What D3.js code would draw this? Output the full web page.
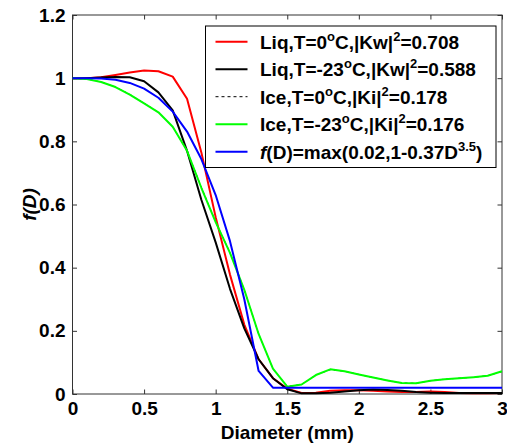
<!DOCTYPE html>
<html>
<head>
<meta charset="utf-8">
<script src="https://cdn.jsdelivr.net/npm/d3@7/dist/d3.min.js"></script>
<style>
  html, body { margin: 0; padding: 0; background: #fff; }
  svg { display: block; }
  text { font-family: "Liberation Sans", Arial, Helvetica, sans-serif; font-weight: bold; fill: #000; }
</style>
</head>
<body>
<svg id="chart" width="507" height="443"></svg>
<script>
// Diameter grid (mm)
const diameter = [0, 0.1, 0.2, 0.3, 0.4, 0.5, 0.6, 0.7, 0.8, 0.9, 1.0,
                  1.1, 1.2, 1.3, 1.4, 1.5, 1.6, 1.7, 1.8, 1.9, 2.0,
                  2.1, 2.2, 2.3, 2.4, 2.5, 2.6, 2.7, 2.8, 2.9, 3.0];

// Liquid, T = 0 °C
const liq0 = [1.000, 1.000, 1.003, 1.010, 1.018, 1.024, 1.022, 1.005, 0.935, 0.765, 0.560,
              0.378, 0.220, 0.110, 0.050, 0.017, 0.003, 0.004, 0.010, 0.012, 0.012,
              0.010, 0.008, 0.006, 0.006, 0.008, 0.006, 0.003, 0.002, 0.002, 0.003];
// Liquid, T = -23 °C
const liq23 = [1.000, 1.000, 1.002, 1.004, 1.003, 0.990, 0.955, 0.898, 0.770, 0.615, 0.480,
               0.333, 0.208, 0.110, 0.050, 0.015, 0.002, 0.002, 0.004, 0.008, 0.012,
               0.014, 0.013, 0.010, 0.006, 0.004, 0.003, 0.003, 0.003, 0.003, 0.003];
// Ice, T = 0 °C
const ice0 = [1.000, 0.997, 0.988, 0.972, 0.949, 0.921, 0.892, 0.846, 0.770, 0.655, 0.545,
              0.448, 0.330, 0.190, 0.080, 0.024, 0.030, 0.060, 0.077, 0.072, 0.062,
              0.052, 0.043, 0.035, 0.034, 0.042, 0.047, 0.050, 0.053, 0.058, 0.071];
// Ice, T = -23 °C
const ice23 = [1.000, 0.997, 0.988, 0.972, 0.948, 0.920, 0.892, 0.846, 0.770, 0.653, 0.544,
               0.447, 0.330, 0.190, 0.080, 0.023, 0.030, 0.060, 0.078, 0.072, 0.062,
               0.052, 0.043, 0.035, 0.034, 0.042, 0.047, 0.050, 0.053, 0.058, 0.072];
// f(D) = max(0.02, 1 - 0.37 D^3.5)
const fitD = [1.000, 1.000, 0.999, 0.995, 0.985, 0.967, 0.938, 0.894, 0.831, 0.744, 0.630,
              0.484, 0.300, 0.073, 0.020, 0.020, 0.020, 0.020, 0.020, 0.020, 0.020,
              0.020, 0.020, 0.020, 0.020, 0.020, 0.020, 0.020, 0.020, 0.020, 0.020];

const xTicks = [0, 0.5, 1, 1.5, 2, 2.5, 3];
const yTicks = [0, 0.2, 0.4, 0.6, 0.8, 1, 1.2];

const series = [
  { values: liq0,  color: "#ff0000", width: 2, dash: null,
    parts: [["Liq,T=0"], ["o", "sup"], ["C,|Kw|"], ["2", "sup"], ["=0.708"]] },
  { values: liq23, color: "#000000", width: 2, dash: null,
    parts: [["Liq,T=-23"], ["o", "sup"], ["C,|Kw|"], ["2", "sup"], ["=0.588"]] },
  { values: ice0,  color: "#000000", width: 1, dash: "3,3",
    parts: [["Ice,T=0"], ["o", "sup"], ["C,|Ki|"], ["2", "sup"], ["=0.178"]] },
  { values: ice23, color: "#00ff00", width: 2, dash: null,
    parts: [["Ice,T=-23"], ["o", "sup"], ["C,|Ki|"], ["2", "sup"], ["=0.176"]] },
  { values: fitD,  color: "#0000ff", width: 2, dash: null,
    parts: [["f", "it"], ["(D)=max(0.02,1-0.37D"], ["3.5", "sup"], [")"]] }
];

const svg = d3.select("#chart");
const plot = { left: 72.5, right: 502, top: 15, bottom: 394 };

const x = d3.scaleLinear().domain([0, 3]).range([plot.left, plot.right]);
const y = d3.scaleLinear().domain([0, 1.2]).range([plot.bottom, plot.top]);

const axisColor = "#333";
const tickLen = 4.5;

// Axes with inward ticks on all four sides
const xBottom = svg.append("g").attr("transform", `translate(0,${plot.bottom})`)
  .call(d3.axisBottom(x).tickValues(xTicks).tickSizeInner(-tickLen).tickSizeOuter(0)
        .tickFormat(d3.format("")).tickPadding(8));
const xTop = svg.append("g").attr("transform", `translate(0,${plot.top})`)
  .call(d3.axisTop(x).tickValues(xTicks).tickSizeInner(-tickLen).tickSizeOuter(0).tickFormat(""));
const yLeft = svg.append("g").attr("transform", `translate(${plot.left},0)`)
  .call(d3.axisLeft(y).tickValues(yTicks).tickSizeInner(-tickLen).tickSizeOuter(0)
        .tickFormat(d3.format("")).tickPadding(7));
const yRight = svg.append("g").attr("transform", `translate(${plot.right},0)`)
  .call(d3.axisRight(y).tickValues(yTicks).tickSizeInner(-tickLen).tickSizeOuter(0).tickFormat(""));

[xBottom, xTop, yLeft, yRight].forEach(g => {
  g.select(".domain").remove();
  g.selectAll(".tick line").attr("stroke", axisColor);
  g.selectAll(".tick text").attr("font-size", 19).attr("font-family", null).attr("fill", "#000");
});
xBottom.selectAll(".tick text").attr("dy", "0.71em");

// Plot frame
svg.append("rect")
  .attr("x", plot.left).attr("y", plot.top)
  .attr("width", plot.right - plot.left).attr("height", plot.bottom - plot.top)
  .attr("fill", "none").attr("stroke", axisColor).attr("stroke-width", 1);

// Curves
const line = d3.line().x((d, i) => x(diameter[i])).y(d => y(d));
series.forEach(s => {
  svg.append("path")
    .datum(s.values)
    .attr("d", line)
    .attr("fill", "none")
    .attr("stroke", s.color)
    .attr("stroke-width", s.width)
    .attr("stroke-dasharray", s.dash)
    .attr("stroke-linejoin", "round");
});

// Axis titles
svg.append("text")
  .attr("x", (plot.left + plot.right) / 2).attr("y", 439)
  .attr("text-anchor", "middle").attr("font-size", 19)
  .text("Diameter (mm)");

const yTitle = svg.append("text")
  .attr("transform", `translate(36,${(plot.top + plot.bottom) / 2}) rotate(-90)`)
  .attr("text-anchor", "middle").attr("font-size", 19);
yTitle.append("tspan").attr("font-style", "italic").text("f(D)");

// Legend
const legend = { left: 205.5, top: 26, right: 496, bottom: 167.5, rowH: 27.5, firstRow: 41.7 };
svg.append("rect")
  .attr("x", legend.left).attr("y", legend.top)
  .attr("width", legend.right - legend.left).attr("height", legend.bottom - legend.top)
  .attr("fill", "#fff").attr("stroke", "#000").attr("stroke-width", 1);

series.forEach((s, i) => {
  const cy = legend.firstRow + i * legend.rowH;
  svg.append("line")
    .attr("x1", 215.5).attr("x2", 247.5).attr("y1", cy).attr("y2", cy)
    .attr("stroke", s.color).attr("stroke-width", s.width)
    .attr("stroke-dasharray", s.dash);
  const t = svg.append("text")
    .attr("x", 260).attr("y", cy + 6.8).attr("font-size", 19);
  let raised = false;
  s.parts.forEach(([str, kind]) => {
    const sp = t.append("tspan").text(str);
    if (kind === "sup") {
      sp.attr("font-size", 13).attr("dy", -8);
      raised = true;
    } else {
      if (raised) { sp.attr("dy", 8); raised = false; }
      if (kind === "it") sp.attr("font-style", "italic");
    }
  });
});
</script>
</body>
</html>
